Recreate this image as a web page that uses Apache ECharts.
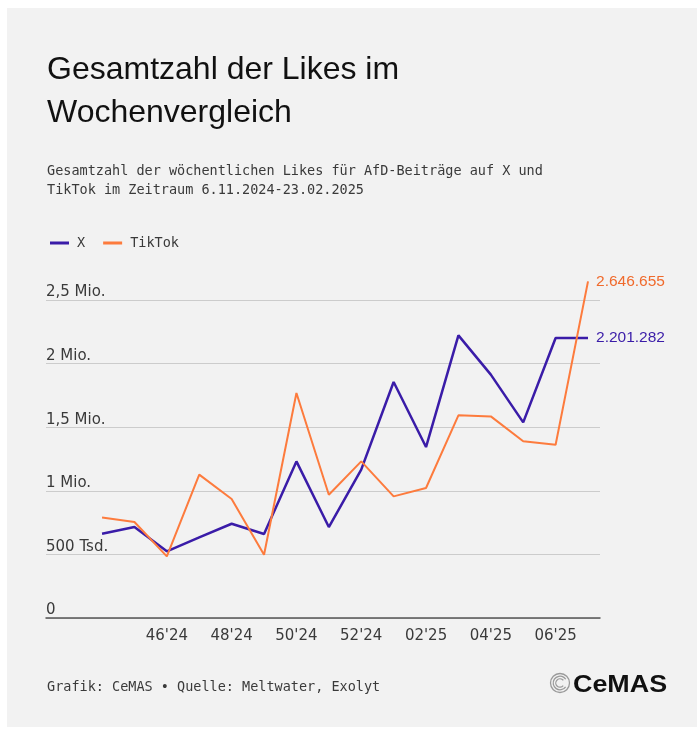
<!DOCTYPE html>
<html>
<head>
<meta charset="utf-8">
<script src="https://cdn.jsdelivr.net/npm/echarts@6/dist/echarts.min.js"></script>
<style>
html,body{margin:0;padding:0;background:#ffffff;}
#chart{width:697px;height:731px;}
</style>
</head>
<body>
<div id="chart"></div>
<script>
// ---- data ----
const weeks = ["44'24","45'24","46'24","47'24","48'24","49'24","50'24","51'24","52'24","01'25","02'25","03'25","04'25","05'25","06'25","07'25"];
const xLikes = [663000, 715000, 524000, 634000, 741000, 660000, 1231000, 715000, 1166000, 1855000, 1344000, 2222000, 1913000, 1538000, 2201282, 2201282];
const tiktokLikes = [791000, 755000, 484000, 1127000, 935000, 497000, 1769000, 969000, 1231000, 956000, 1022000, 1593000, 1585000, 1389000, 1362000, 2646655];
const xTickIdx = [2, 4, 6, 8, 10, 12, 14];
const yTickLabels = {0: "0", 500000: "500 Tsd.", 1000000: "1 Mio.", 1500000: "1,5 Mio.", 2000000: "2 Mio.", 2500000: "2,5 Mio."};

const PURPLE = '#3a1ca8';
const ORANGE = '#fd7b3d';
const MONO = '"DejaVu Sans Mono", "Liberation Mono", monospace';
const SANS = '"DejaVu Sans", "Liberation Sans", sans-serif';

function fmtDe(v){ return String(Math.round(v)).replace(/\B(?=(\d{3})+(?!\d))/g, '.'); }

const chart = echarts.init(document.getElementById('chart'), null, {renderer: 'canvas'});
chart.setOption({
  backgroundColor: '#ffffff',
  animation: false,
  graphic: [
    {type: 'rect', z: -10, silent: true, shape: {x: 7, y: 8, width: 690, height: 719}, style: {fill: '#f2f2f2'}},
    {type: 'text', left: 47, top: 49, style: {text: 'Gesamtzahl der Likes im\nWochenvergleich', font: '32px "Liberation Sans", Arial, sans-serif', fill: '#111111', lineHeight: 43}},
    {type: 'text', left: 47, top: 162, style: {text: 'Gesamtzahl der wöchentlichen Likes für AfD-Beiträge auf X und\nTikTok im Zeitraum 6.11.2024-23.02.2025', font: '13.5px ' + MONO, fill: '#3a3a3a', lineHeight: 19}},
    {type: 'text', left: 47, top: 680, style: {text: 'Grafik: CeMAS • Quelle: Meltwater, Exolyt', font: '13.5px ' + MONO, fill: '#3a3a3a'}},
    {type: 'text', x: 573, y: 673, scaleX: 1.12, style: {text: 'CeMAS', font: 'bold 24px "Liberation Sans", Arial, sans-serif', fill: '#111111'}},
    {type: 'circle', shape: {cx: 560, cy: 683, r: 9.5}, style: {fill: 'none', stroke: '#9a9a9a', lineWidth: 1.3}},
    {type: 'arc', shape: {cx: 560, cy: 683, r: 6.8, startAngle: 0.6, endAngle: 5.7}, style: {fill: 'none', stroke: '#9a9a9a', lineWidth: 1.3}},
    {type: 'arc', shape: {cx: 560, cy: 683, r: 4.2, startAngle: 0.7, endAngle: 5.6}, style: {fill: 'none', stroke: '#9a9a9a', lineWidth: 1.3}}
  ],
  legend: {
    left: 45, top: 231,
    itemWidth: 19, itemHeight: 3, itemGap: 18,
    icon: 'rect',
    textStyle: {fontFamily: MONO, fontSize: 13.5, color: '#3a3a3a', padding: [0, 0, 0, 3]},
    data: ['X', 'TikTok']
  },
  grid: {left: 46, right: 97, top: 300, bottom: 113, containLabel: false},
  xAxis: {
    type: 'value',
    min: -1.73, max: 15.37,
    axisLine: {show: true, lineStyle: {color: '#555555', width: 1.5}},
    axisTick: {show: false},
    splitLine: {show: false},
    axisLabel: {
      customValues: xTickIdx,
      formatter: v => weeks[Math.round(v)] || '',
      fontFamily: SANS, fontSize: 15, color: '#3a3a3a', margin: 11
    }
  },
  yAxis: {
    type: 'value',
    min: 0, max: 2500000, interval: 500000,
    axisLine: {show: false},
    axisTick: {show: false},
    splitLine: {show: true, lineStyle: {color: '#cccccc', width: 1}},
    axisLabel: {
      inside: true, margin: 0, align: 'left', verticalAlign: 'bottom',
      padding: [0, 0, 0, 0],
      formatter: v => yTickLabels[v] !== undefined ? yTickLabels[v] : '',
      fontFamily: SANS, fontSize: 15, color: '#3a3a3a'
    }
  },
  series: [
    {
      name: 'X', type: 'line', symbol: 'none', clip: false,
      data: xLikes.map((v, i) => [i, v]),
      lineStyle: {color: PURPLE, width: 2.5},
      itemStyle: {color: PURPLE},
      endLabel: {show: true, distance: 8, formatter: p => fmtDe(p.value[1]), color: PURPLE, fontFamily: '"Liberation Sans", Arial, sans-serif', fontSize: 15.5}
    },
    {
      name: 'TikTok', type: 'line', symbol: 'none', clip: false,
      data: tiktokLikes.map((v, i) => [i, v]),
      lineStyle: {color: ORANGE, width: 2},
      itemStyle: {color: ORANGE},
      endLabel: {show: true, distance: 8, formatter: p => fmtDe(p.value[1]), color: '#f06a2c', fontFamily: '"Liberation Sans", Arial, sans-serif', fontSize: 15.5}
    }
  ]
});
</script>
</body>
</html>
